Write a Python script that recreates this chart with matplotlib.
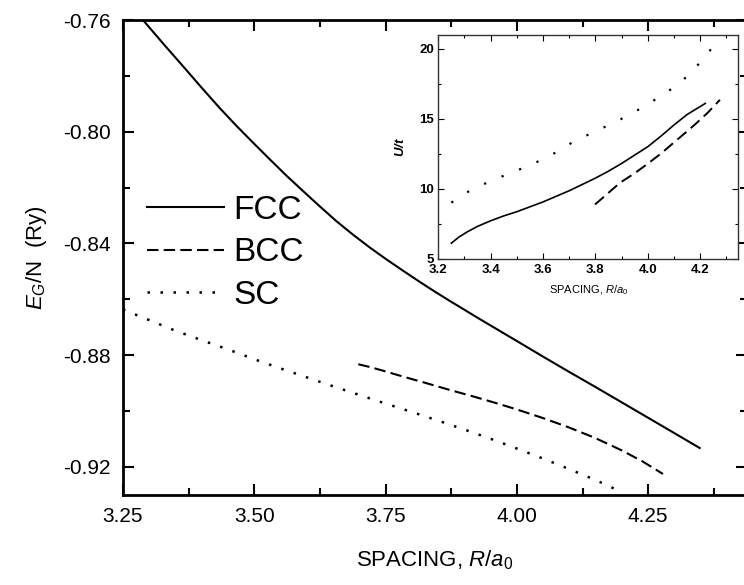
import matplotlib
matplotlib.use("Agg")
import matplotlib.pyplot as plt
from matplotlib.ticker import MultipleLocator, FormatStrFormatter

plt.rcParams['font.family'] = ['Liberation Sans', 'DejaVu Sans']
plt.rcParams['mathtext.fontset'] = 'custom'
plt.rcParams['mathtext.rm'] = 'Liberation Sans'
plt.rcParams['mathtext.it'] = 'Liberation Sans:italic'
plt.rcParams['mathtext.bf'] = 'Liberation Sans:bold:italic'

# ground state energy per site vs lattice spacing
fcc_r = [3.25, 3.288, 3.33, 3.371, 3.40, 3.434, 3.466, 3.498, 3.53, 3.561, 3.593, 3.625, 3.656,
         3.688, 3.72, 3.752, 3.784, 3.815, 3.843, 3.872, 3.93, 4.00, 4.05, 4.10, 4.15, 4.20, 4.25,
         4.30, 4.348]
fcc_e = [-0.7518, -0.7600, -0.7692, -0.7780, -0.7843, -0.7915, -0.7979, -0.8040, -0.8100, -0.8157,
         -0.8213, -0.8268, -0.8320, -0.8369, -0.8415, -0.8458, -0.8499, -0.8538, -0.8572, -0.8606,
         -0.8672, -0.8750, -0.8806, -0.8861, -0.8915, -0.8970, -0.9025, -0.9080, -0.9133]

bcc_r = [3.698, 3.72, 3.745, 3.77, 3.796, 3.828, 3.872, 3.92, 3.96, 4.00, 4.05, 4.10, 4.15, 4.20,
         4.24, 4.278]
bcc_e = [-0.8833, -0.8843, -0.8856, -0.8870, -0.8884, -0.8901, -0.8925, -0.8950, -0.8972, -0.8995,
         -0.9026, -0.9060, -0.9098, -0.9142, -0.9182, -0.9226]

sc_r = [3.25, 3.30, 3.35, 3.40, 3.45, 3.50, 3.55, 3.60, 3.65, 3.70, 3.75, 3.80, 3.85, 3.90, 3.95,
        4.00, 4.05, 4.10, 4.15, 4.195]
sc_e = [-0.8637, -0.8675, -0.8713, -0.8747, -0.8780, -0.8815, -0.8848, -0.8880, -0.8912, -0.8943,
        -0.8974, -0.9004, -0.9035, -0.9067, -0.9100, -0.9135, -0.9171, -0.9209, -0.9248, -0.9287]

# U/t vs spacing (inset)
fcc_ri = [3.25, 3.28, 3.31, 3.35, 3.40, 3.45, 3.50, 3.55, 3.60, 3.65, 3.70, 3.75, 3.80, 3.85,
          3.90, 3.95, 4.00, 4.05, 4.10, 4.15, 4.22]
fcc_u = [6.1, 6.55, 6.9, 7.3, 7.7, 8.05, 8.35, 8.7, 9.05, 9.45, 9.85, 10.3, 10.75, 11.25,
         11.8, 12.4, 13.0, 13.75, 14.55, 15.3, 16.1]

bcc_ri = [3.799, 3.85, 3.894, 3.95, 3.996, 4.05, 4.098, 4.15, 4.187, 4.23, 4.276]
bcc_u = [8.87, 9.7, 10.42, 11.1, 11.73, 12.5, 13.27, 14.1, 14.70, 15.45, 16.36]

sc_ri = [3.25, 3.32, 3.40, 3.48, 3.56, 3.64, 3.72, 3.80, 3.88, 3.96, 4.04, 4.12, 4.18, 4.23, 4.28]
sc_u = [9.0, 9.85, 10.55, 11.15, 11.75, 12.5, 13.4, 14.1, 14.8, 15.6, 16.5, 17.5, 18.6, 19.7, 20.9]

labels = ['FCC', 'BCC', 'SC']

fig = plt.figure(figsize=(7.44, 5.85), dpi=100)
ax = fig.add_axes([0.1653, 0.1545, 0.8387, 0.8113])

lw = 1.5
ax.plot(fcc_r, fcc_e, color='black', lw=lw, label=labels[0])
ax.plot(bcc_r, bcc_e, color='black', lw=lw, linestyle=(0, (5.5, 2.5)), label=labels[1])
ax.plot(sc_r, sc_e, color='black', lw=1.8, linestyle=(0, (1, 4.2)), label=labels[2])

ax.set_xlim(3.25, 4.438)
ax.set_ylim(-0.93, -0.76)
ax.xaxis.set_major_locator(MultipleLocator(0.25))
ax.xaxis.set_minor_locator(MultipleLocator(0.125))
ax.yaxis.set_major_locator(MultipleLocator(0.04))
ax.yaxis.set_minor_locator(MultipleLocator(0.02))
ax.xaxis.set_major_formatter(FormatStrFormatter('%.2f'))
ax.yaxis.set_major_formatter(FormatStrFormatter('%.2f'))
ax.tick_params(which='both', direction='in', top=True, right=True, labelsize=15, width=1.5)
ax.tick_params(which='major', length=8, pad=9)
ax.tick_params(which='minor', length=5)
for s in ax.spines.values():
    s.set_linewidth(2)

ax.set_xlabel('SPACING, $R/a_\\mathrm{0}$', fontsize=16, labelpad=16)
ax.set_ylabel('$E_G$/N  (Ry)', fontsize=16, labelpad=10)

ax.legend(loc='upper left', bbox_to_anchor=(0.0, 0.682), frameon=False, fontsize=24,
          handlelength=2.3, handletextpad=0.3, labelspacing=0.34, borderaxespad=0.32)

# inset
ins = fig.add_axes([0.5891, 0.5581, 0.4032, 0.3821])
ins.plot(fcc_ri, fcc_u, color='black', lw=1.2)
ins.plot(bcc_ri, bcc_u, color='black', lw=1.4, linestyle=(0, (6, 3)))
ins.plot(sc_ri, sc_u, color='black', lw=1.6, linestyle=(0, (1, 7.5)))
ins.set_xlim(3.2, 4.346)
ins.set_ylim(5, 21)
ins.xaxis.set_major_locator(MultipleLocator(0.2))
ins.xaxis.set_minor_locator(MultipleLocator(0.1))
ins.yaxis.set_major_locator(MultipleLocator(5))
ins.yaxis.set_minor_locator(MultipleLocator(2.5))
ins.xaxis.set_major_formatter(FormatStrFormatter('%.1f'))
ins.tick_params(which='both', direction='in', top=True, right=True, labelsize=9.5, width=0.8)
ins.tick_params(axis='x', pad=4)
ins.tick_params(axis='y', pad=3)
ins.tick_params(which='major', length=4)
ins.tick_params(which='minor', length=2.5)
for t in ins.get_xticklabels() + ins.get_yticklabels():
    t.set_fontweight('bold')
for s in ins.spines.values():
    s.set_linewidth(1)
    s.set_color('#333333')
ins.set_xlabel('SPACING, $R/a_\\mathrm{0}$', fontsize=8, labelpad=5)
ins.set_ylabel('$\\mathbf{U/t}$', fontsize=9.5, labelpad=9)

fig.savefig('out.png', dpi=100)
